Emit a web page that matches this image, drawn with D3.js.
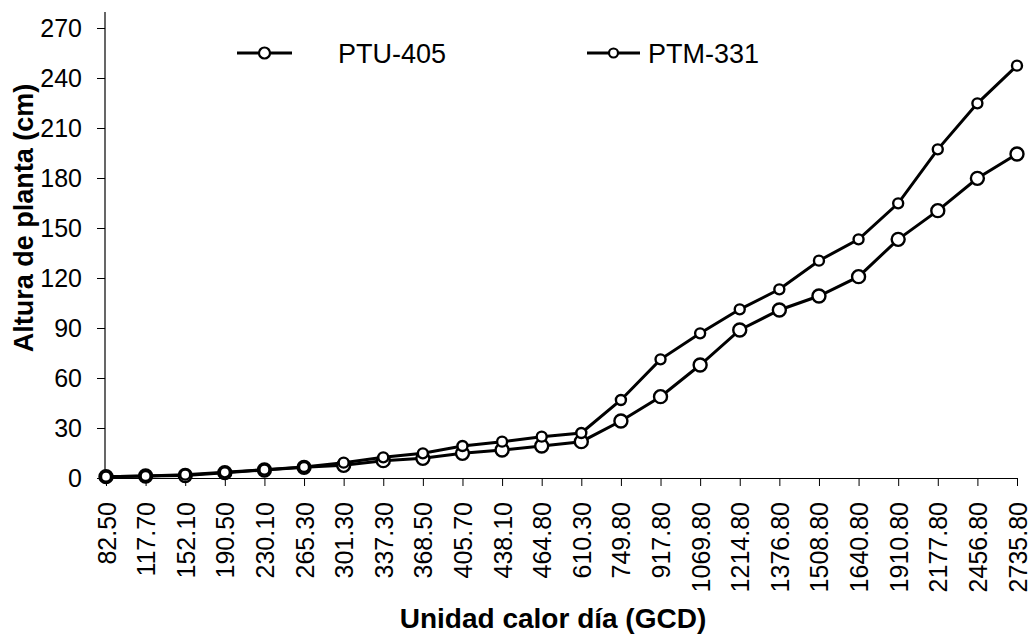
<!DOCTYPE html>
<html lang="en">
<head>
<meta charset="utf-8">
<title>Altura de planta</title>
<script src="https://d3js.org/d3.v7.min.js"></script>
<style>
    body { margin: 0; background: white; }
    svg { font-family: "Liberation Sans", Arial, sans-serif; }
</style>
</head>
<body>
<svg id="chart" width="1031" height="634"></svg>
<script>

    // unidad calor dia (GCD) - categories on x axis
    var gcd = ["82.50", "117.70", "152.10", "190.50", "230.10", "265.30", "301.30", "337.30",
        "368.50", "405.70", "438.10", "464.80", "610.30", "749.80", "917.80", "1069.80",
        "1214.80", "1376.80", "1508.80", "1640.80", "1910.80", "2177.80", "2456.80", "2735.80"];

    // altura de planta (cm)
    var ptu405 = [0.8, 1.2, 1.5, 3.2, 4.8, 6.4, 7.6, 10.4, 11.8, 14.8, 16.8, 19.2,
        21.8, 34.2, 48.8, 67.8, 88.8, 100.8, 109.2, 120.8, 143.2, 160.4, 179.8, 194.4];
    var ptm331 = [0.8, 1.2, 2.0, 3.4, 5.0, 6.6, 9.2, 12.4, 14.8, 19.2, 21.8, 24.8,
        27.0, 46.8, 71.2, 86.8, 101.2, 113.2, 130.4, 143.2, 164.8, 197.2, 224.8, 247.4];

    var yTicks = [0, 30, 60, 90, 120, 150, 180, 210, 240, 270];

    var svg = d3.select("#chart");

    var x = d3.scalePoint().domain(gcd).range([106, 1017]).padding(0);
    var y = d3.scaleLinear().domain([0, 270]).range([478, 28]);

    // y axis
    var yAxis = svg.append("g")
        .attr("transform", "translate(105,0)")
        .call(d3.axisLeft(y).tickValues(yTicks).tickSize(8).tickSizeOuter(0).tickPadding(15));
    yAxis.select(".domain").remove();
    yAxis.selectAll("text").style("font-size", "25px").attr("dy", "0.35em");
    svg.append("line")
        .attr("x1", 105).attr("x2", 105)
        .attr("y1", 12).attr("y2", y(0))
        .attr("stroke", "black").attr("stroke-width", 1.2);

    // x axis
    var xAxis = svg.append("g")
        .attr("transform", "translate(0," + y(0) + ")")
        .call(d3.axisBottom(x).tickSize(8).tickSizeOuter(0));
    xAxis.select(".domain").attr("stroke-width", 1.2);
    xAxis.selectAll("text")
        .style("font-size", "25px")
        .attr("text-anchor", "end")
        .attr("transform", "rotate(-90)")
        .attr("x", -24)
        .attr("y", 0)
        .attr("dy", "0.36em");

    var line = d3.line()
        .x(function (d, i) { return x(gcd[i]); })
        .y(function (d) { return y(d); });

    var series = [
        {name: "PTU-405", values: ptu405, r: 6.5},
        {name: "PTM-331", values: ptm331, r: 5}
    ];

    series.forEach(function (s) {
        svg.append("path")
            .datum(s.values)
            .attr("d", line)
            .attr("fill", "none")
            .attr("stroke", "black")
            .attr("stroke-width", 3);
    });

    series.forEach(function (s) {
        svg.append("g")
            .selectAll("circle")
            .data(s.values)
            .enter()
            .append("circle")
            .attr("cx", (d, i) => x(gcd[i]))
            .attr("cy", d => y(d))
            .attr("r", s.r)
            .attr("fill", "white")
            .attr("stroke", "black")
            .attr("stroke-width", 2.4);
    });

    // legend
    var legend = [
        {name: "PTU-405", x1: 237, x2: 292, tx: 338, r: 5.5},
        {name: "PTM-331", x1: 587, x2: 640, tx: 648, r: 4.5}
    ];
    legend.forEach(function (l) {
        var g = svg.append("g");
        g.append("line")
            .attr("x1", l.x1).attr("x2", l.x2)
            .attr("y1", 53).attr("y2", 53)
            .attr("stroke", "black").attr("stroke-width", 3);
        g.append("circle")
            .attr("cx", (l.x1 + l.x2) / 2).attr("cy", 53)
            .attr("r", l.r)
            .attr("fill", "white").attr("stroke", "black").attr("stroke-width", 2.2);
        g.append("text")
            .attr("x", l.tx).attr("y", 63)
            .style("font-size", "27px")
            .text(l.name);
    });

    // axis titles
    svg.append("text")
        .attr("x", 553).attr("y", 628)
        .attr("text-anchor", "middle")
        .style("font-size", "28px")
        .style("font-weight", "bold")
        .text("Unidad calor día (GCD)");

    svg.append("text")
        .attr("transform", "translate(33,218) rotate(-90)")
        .attr("text-anchor", "middle")
        .style("font-size", "27px")
        .style("font-weight", "bold")
        .text("Altura de planta (cm)");

</script>
</body>
</html>
